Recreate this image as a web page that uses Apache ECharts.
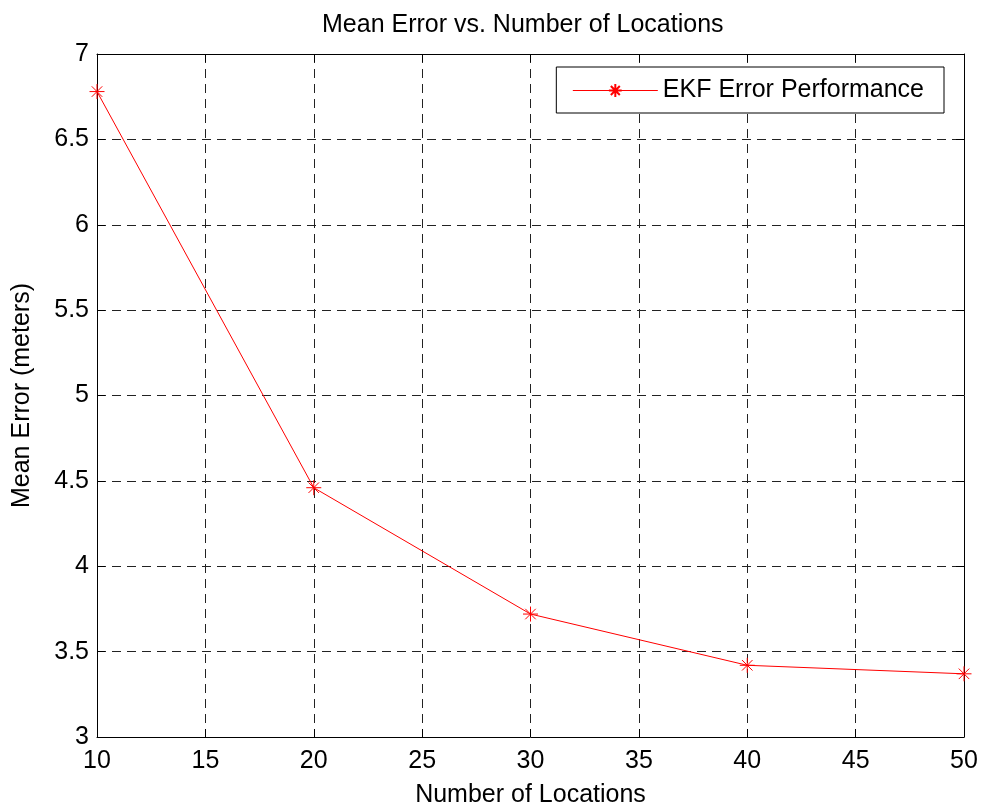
<!DOCTYPE html>
<html>
<head>
<meta charset="utf-8">
<script src="https://cdn.jsdelivr.net/npm/echarts@6/dist/echarts.min.js"></script>
<style>
  html, body { margin: 0; padding: 0; background: #fff; }
  #chart { width: 982px; height: 806px; }
</style>
</head>
<body>
<div id="chart"></div>
<script>
// Mean localisation error of the EKF for each number of locations
const locations = [10, 20, 30, 40, 50];
const meanError = [6.78, 4.46, 3.72, 3.42, 3.37];
const xTicks = [10, 15, 20, 25, 30, 35, 40, 45, 50];
const yTicks = [3, 3.5, 4, 4.5, 5, 5.5, 6, 6.5, 7];

const FONT = '"Liberation Sans", Arial, sans-serif';
// asterisk marker: horizontal, vertical and two diagonal strokes
const STAR = 'path://M0,-10 L0,10 M-10,0 L10,0 M-7,-7 L7,7 M-7,7 L7,-7';

const chart = echarts.init(document.getElementById('chart'), null, { renderer: 'canvas' });

const gridLine = { show: true, lineStyle: { color: '#222', width: 1, type: [9, 6] } };
const axisBase = {
  axisLine: { show: true, onZero: false, lineStyle: { color: '#000', width: 1 } },
  axisTick: { show: true, inside: true, length: 8, lineStyle: { color: '#000', width: 1 } },
  axisLabel: { color: '#000', fontSize: 25, fontFamily: FONT }
};

chart.setOption({
  animation: false,
  backgroundColor: '#fff',
  title: {
    text: 'Mean Error vs. Number of Locations',
    left: 317,
    top: 8,
    textStyle: { color: '#000', fontSize: 25, fontWeight: 'normal', fontFamily: FONT }
  },
  legend: {
    data: ['EKF Error Performance'],
    right: 38,
    top: 67,
    orient: 'vertical',
    padding: [11, 20, 10, 16],
    itemWidth: 85,
    itemHeight: 16,
    backgroundColor: '#fff',
    borderColor: '#000',
    borderWidth: 1,
    borderRadius: 0,
    lineStyle: { width: 1 },
    textStyle: { color: '#000', fontSize: 25, fontFamily: FONT }
  },
  grid: { left: 97, right: 18, top: 54, bottom: 69, containLabel: false, outerBoundsMode: 'none' },
  xAxis: [
    Object.assign({}, axisBase, {
      type: 'value', min: xTicks[0], max: xTicks[xTicks.length - 1], interval: 5,
      position: 'bottom',
      name: 'Number of Locations', nameLocation: 'middle', nameGap: 46,
      nameTextStyle: { color: '#000', fontSize: 25, fontFamily: FONT },
      axisLabel: Object.assign({}, axisBase.axisLabel, { margin: 12 }),
      splitLine: gridLine
    }),
    Object.assign({}, axisBase, {
      type: 'value', min: xTicks[0], max: xTicks[xTicks.length - 1], interval: 5,
      position: 'top',
      axisLabel: { show: false },
      splitLine: { show: false }
    })
  ],
  yAxis: [
    Object.assign({}, axisBase, {
      type: 'value', min: yTicks[0], max: yTicks[yTicks.length - 1], interval: 0.5,
      position: 'left',
      name: 'Mean Error (meters)', nameLocation: 'middle', nameGap: 62,
      nameTextStyle: { color: '#000', fontSize: 25, fontFamily: FONT },
      axisLabel: Object.assign({}, axisBase.axisLabel, { margin: 8 }),
      splitLine: gridLine
    }),
    Object.assign({}, axisBase, {
      type: 'value', min: yTicks[0], max: yTicks[yTicks.length - 1], interval: 0.5,
      position: 'right',
      axisLabel: { show: false },
      splitLine: { show: false }
    })
  ],
  series: [{
    name: 'EKF Error Performance',
    type: 'line',
    data: locations.map((x, i) => [x, meanError[i]]),
    symbol: STAR,
    symbolSize: 15,
    showAllSymbol: true,
    lineStyle: { color: '#ff0000', width: 1 },
    itemStyle: { color: 'rgba(0,0,0,0)', borderColor: '#ff0000', borderWidth: 1 },
    emphasis: { disabled: true }
  }]
});
</script>
</body>
</html>
